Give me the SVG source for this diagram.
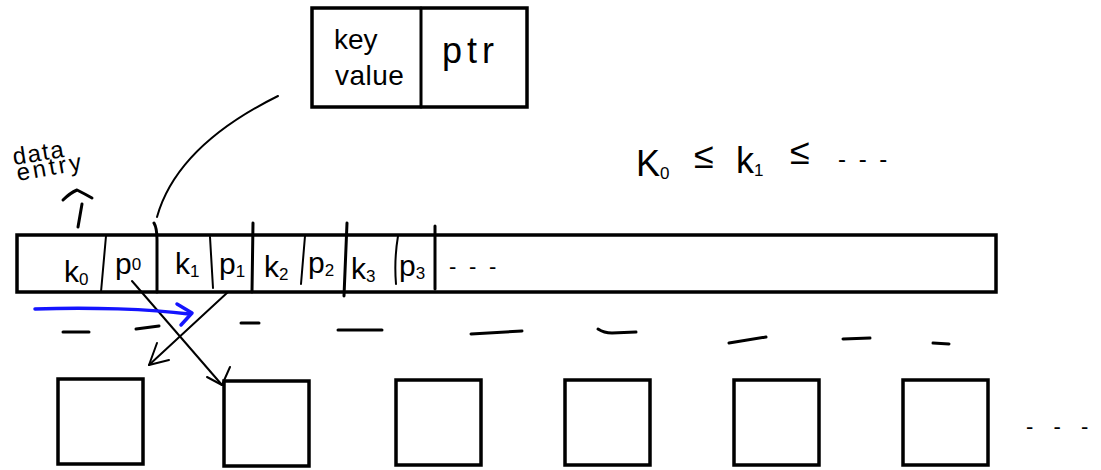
<svg xmlns="http://www.w3.org/2000/svg" width="1101" height="470" viewBox="0 0 1101 470">
  <style>
    .ink { fill: none; stroke: #000; stroke-width: 3; stroke-linecap: round; stroke-linejoin: round; }
    .thin { fill: none; stroke: #000; stroke-width: 2; stroke-linecap: round; stroke-linejoin: round; }
    .box { fill: #fff; stroke: #000; stroke-width: 3.5; }
    .blue { fill: none; stroke: #1414ff; stroke-width: 3.5; stroke-linecap: round; stroke-linejoin: round; }
    text { font-family: "Liberation Sans", Arial, sans-serif; fill: #000; }
    .lbl { font-size: 30px; }
    .sub { font-size: 17px; }
  </style>
  <rect width="1101" height="470" fill="#fff"/>

  <!-- entry format: key value | ptr -->
  <g id="entry-format">
    <rect class="box" x="312" y="8" width="215" height="99"/>
    <line class="ink" x1="421" y1="8" x2="421" y2="107"/>
    <text x="334" y="49" font-size="28">key</text>
    <text x="335" y="85" font-size="28" letter-spacing="0.5">value</text>
    <text x="442" y="63" font-size="36" letter-spacing="5">ptr</text>
  </g>

  <!-- data entry annotation -->
  <g id="data-entry-label">
    <text x="14" y="165" font-size="24" letter-spacing="1.5" transform="rotate(-9 14 165)">data</text>
    <text x="18" y="181" font-size="24" letter-spacing="3" transform="rotate(-10 18 181)">entry</text>
  </g>

  <!-- ordering note -->
  <g id="key-order">
    <text x="636" y="176" font-size="36">K<tspan class="sub" dy="3">0</tspan></text>
    <text x="694" y="168" font-size="36">≤</text>
    <text x="736" y="173" font-size="36">k<tspan class="sub" dy="3">1</tspan></text>
    <text x="790" y="164" font-size="36">≤</text>
    <text x="838" y="167" font-size="24" letter-spacing="3">- - -</text>
  </g>

  <!-- page holding the sorted entries -->
  <g id="page">
    <rect class="box" x="17" y="235" width="979" height="57"/>
    <path class="thin" d="M106,236 L101,292"/>
    <path class="ink" d="M154,223 Q157,228 157,240 L157,292"/>
    <path class="thin" d="M210,237 L213,288"/>
    <path class="ink" d="M253,223 L252,292"/>
    <path class="thin" d="M305,236 L301,284"/>
    <path class="ink" d="M347,223 L344,296"/>
    <path class="thin" d="M398,236 Q394,260 396,284"/>
    <path class="ink" d="M435,226 L435,289"/>
    <text class="lbl" x="64" y="282">k<tspan class="sub" dy="3">0</tspan></text>
    <text class="lbl" x="115" y="274">p<tspan class="sub" dy="-4">0</tspan></text>
    <text class="lbl" x="175" y="274">k<tspan class="sub" dy="3">1</tspan></text>
    <text class="lbl" x="219" y="274">p<tspan class="sub" dy="3">1</tspan></text>
    <text class="lbl" x="264" y="277">k<tspan class="sub" dy="3">2</tspan></text>
    <text class="lbl" x="308" y="273">p<tspan class="sub" dy="3">2</tspan></text>
    <text class="lbl" x="351" y="279">k<tspan class="sub" dy="3">3</tspan></text>
    <text class="lbl" x="399" y="276">p<tspan class="sub" dy="3">3</tspan></text>
    <text x="449" y="274" font-size="22" letter-spacing="3.3">- - -</text>
  </g>

  <!-- slot marks under the page -->
  <g id="slot-marks" class="ink">
    <path d="M63,332 L89,332"/>
    <path d="M136,329 L159,326"/>
    <path d="M241,323 L259,323"/>
    <path d="M338,330 L382,330"/>
    <path d="M471,334 L522,331"/>
    <path d="M598,329 Q604,333 612,333 L636,332"/>
    <path d="M729,343 L766,337"/>
    <path d="M843,339 L870,338"/>
    <path d="M933,343 L949,344"/>
  </g>

  <!-- child pages -->
  <g id="child-0"><rect class="box" x="58" y="379" width="85" height="85"/></g>
  <g id="child-1"><rect class="box" x="224" y="381" width="85" height="85"/></g>
  <g id="child-2"><rect class="box" x="396" y="380" width="85" height="85"/></g>
  <g id="child-3"><rect class="box" x="565" y="380" width="85" height="85"/></g>
  <g id="child-4"><rect class="box" x="734" y="380" width="85" height="85"/></g>
  <g id="child-5"><rect class="box" x="903" y="380" width="85" height="85"/></g>
  <g id="more-children">
    <text x="1026" y="434" font-size="22" letter-spacing="7">- - -</text>
  </g>

  <!-- connectors -->
  <g id="connectors">
    <path class="thin" d="M278,96 Q177,146 157,217"/>
    <path class="ink" d="M63,200 Q70,193 77,190 Q85,194 92,198"/>
    <path class="ink" d="M82,204 L78,227"/>
    <path class="thin" d="M132,281 L222,385"/>
    <path class="thin" d="M230,367 L222,385 L207,377"/>
    <path class="thin" d="M228,292 L149,365"/>
    <path class="thin" d="M157,343 L149,365 L169,360"/>
    <path class="blue" d="M35,309 C90,307 150,309 189,314"/>
    <path class="blue" d="M177,304 L192,313 L181,325"/>
  </g>
</svg>
